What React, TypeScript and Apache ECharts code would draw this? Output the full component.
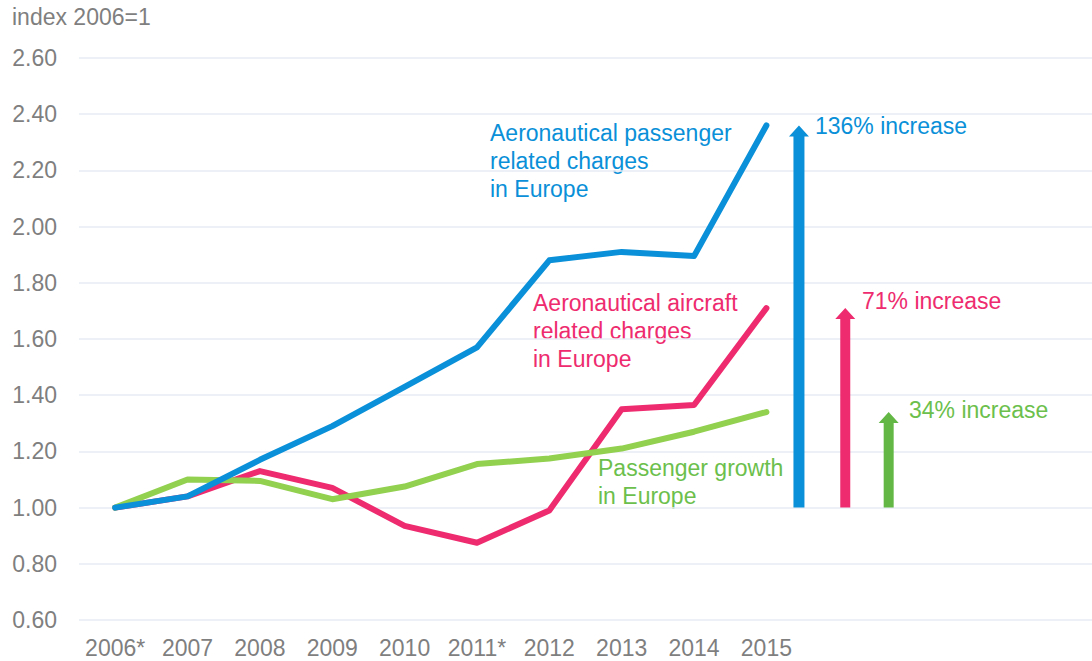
import React, { useEffect, useRef } from "react";
import * as echarts from "echarts";

const years = ["2006*", "2007", "2008", "2009", "2010", "2011*", "2012", "2013", "2014", "2015"];
const spareCategories = ["", "", "", ""];
const passengerCharges = [1.0, 1.04, 1.17, 1.29, 1.43, 1.57, 1.88, 1.91, 1.895, 2.36];
const aircraftCharges = [1.0, 1.04, 1.13, 1.07, 0.935, 0.875, 0.99, 1.35, 1.365, 1.71];
const passengerGrowth = [1.0, 1.1, 1.095, 1.03, 1.075, 1.155, 1.175, 1.21, 1.27, 1.34];
const increaseLabels = ["136% increase", "71% increase", "34% increase"];
const seriesNames = [
  "Aeronautical passenger\nrelated charges\nin Europe",
  "Aeronautical aircraft\nrelated charges\nin Europe",
  "Passenger growth\nin Europe",
];
const baseIndex = 1;
const yMin = 0.6;
const yMax = 2.6;
const yInterval = 0.2;

const BLUE = "#0a90d8";
const PINK = "#ee2b6e";
const GREEN_LINE = "#92d050";
const GREEN_ARROW = "#63b845";
const GREEN_TEXT = "#6cbf4c";
const GRAY = "#7f7f7f";
const FONT = '"Liberation Sans", Arial, sans-serif';

// horizontal placement of arrows on hidden value axis (layout only)
const arrowPos = [9.95, 10.59, 11.19];

export default function App() {
  const ref = useRef<HTMLDivElement>(null);
  useEffect(() => {
    if (!ref.current) return;
    const chart = echarts.init(ref.current, null, { renderer: "svg" });
    const lastVals = [
      passengerCharges[passengerCharges.length - 1],
      aircraftCharges[aircraftCharges.length - 1],
      passengerGrowth[passengerGrowth.length - 1],
    ];
    const arrowColors = [BLUE, PINK, GREEN_ARROW];
    const arrowWidths = [11, 10, 10];
    const lineStyle = (c: string) => ({ color: c, width: 6, cap: "round", join: "round" });
    chart.setOption({
      animation: false,
      textStyle: { fontFamily: FONT },
      grid: { left: 79, top: 58, width: 1014, bottom: 41, containLabel: false },
      xAxis: [
        {
          type: "category",
          data: [...years, ...spareCategories],
          boundaryGap: true,
          axisLine: { show: false },
          axisTick: { show: false },
          axisLabel: { color: GRAY, fontSize: 23, fontFamily: FONT, margin: 16, interval: 0 },
          splitLine: { show: false },
        },
        { type: "value", min: 0, max: 14, show: false },
      ],
      yAxis: {
        type: "value",
        min: yMin,
        max: yMax,
        interval: yInterval,
        axisLine: { show: false },
        axisTick: { show: false },
        axisLabel: {
          color: GRAY,
          fontSize: 23,
          fontFamily: FONT,
          margin: 22,
          formatter: (v: number) => v.toFixed(2),
        },
        splitLine: { lineStyle: { color: "#e7edf5", width: 1.5 } },
      },
      series: [
        {
          name: seriesNames[2],
          type: "line",
          data: passengerGrowth,
          symbol: "none",
          lineStyle: lineStyle(GREEN_LINE),
          z: 3,
        },
        {
          name: seriesNames[1],
          type: "line",
          data: aircraftCharges,
          symbol: "none",
          lineStyle: lineStyle(PINK),
          z: 2,
        },
        {
          name: seriesNames[0],
          type: "line",
          data: passengerCharges,
          symbol: "none",
          lineStyle: lineStyle(BLUE),
          z: 4,
        },
        {
          type: "custom",
          xAxisIndex: 1,
          data: arrowPos.map((p, i) => [p, lastVals[i], i]),
          renderItem: (params: any, api: any) => {
            const x = api.value(0);
            const top = api.value(1);
            const idx = api.value(2);
            const b = api.coord([x, baseIndex]);
            const t = api.coord([x, top]);
            const hw = arrowWidths[idx] / 2;
            const hh = 10;
            const hl = 11;
            const cx = b[0];
            return {
              type: "polygon",
              shape: {
                points: [
                  [cx - hw, b[1]],
                  [cx - hw, t[1] + hl],
                  [cx - hh, t[1] + hl],
                  [cx, t[1]],
                  [cx + hh, t[1] + hl],
                  [cx + hw, t[1] + hl],
                  [cx + hw, b[1]],
                ],
              },
              style: { fill: arrowColors[idx] },
            };
          },
          z: 5,
        },
      ],
      graphic: [
        {
          type: "text",
          left: 12,
          top: 5,
          style: { text: "index 2006=1", fill: GRAY, font: `23px ${FONT}` },
        },
        {
          type: "text",
          left: 490,
          top: 119,
          style: { text: seriesNames[0], fill: BLUE, font: `23px ${FONT}`, lineHeight: 28 },
        },
        {
          type: "text",
          left: 533,
          top: 289,
          style: { text: seriesNames[1], fill: PINK, font: `23px ${FONT}`, lineHeight: 28 },
        },
        {
          type: "text",
          left: 598,
          top: 454,
          style: { text: seriesNames[2], fill: GREEN_TEXT, font: `23px ${FONT}`, lineHeight: 28 },
        },
        {
          type: "text",
          left: 815,
          top: 114,
          style: { text: increaseLabels[0], fill: BLUE, font: `23px ${FONT}` },
        },
        {
          type: "text",
          left: 862,
          top: 289,
          style: { text: increaseLabels[1], fill: PINK, font: `23px ${FONT}` },
        },
        {
          type: "text",
          left: 909,
          top: 398,
          style: { text: increaseLabels[2], fill: GREEN_TEXT, font: `23px ${FONT}` },
        },
      ],
    });
    return () => chart.dispose();
  }, []);
  return (
    <div
      ref={ref}
      style={{ position: "fixed", left: 0, top: 0, width: 1092, height: 661, background: "#fff" }}
    />
  );
}
